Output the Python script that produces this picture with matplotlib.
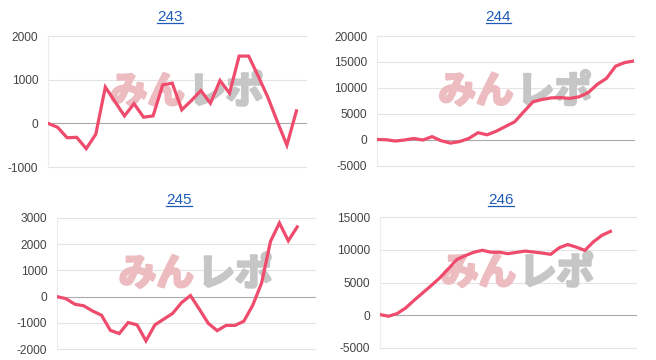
import matplotlib
matplotlib.use("Agg")
import matplotlib.pyplot as plt
import matplotlib.patheffects as pe
from matplotlib.lines import Line2D

plt.rcParams["font.family"] = ["Liberation Sans", "DejaVu Sans"]
plt.rcParams["axes.unicode_minus"] = False

LINE_COLOR = "#ef4b6c"
TITLE_COLOR = "#1f5cb8"

titles = ["243", "244", "245", "246"]

units_243 = [0, -90, -330, -320, -580, -250, 830, 500, 170, 450, 140, 170, 880, 920,
             310, 520, 750, 460, 980, 690, 1540, 1540, 1080, 600, 40, -500, 285]
units_244 = [100, 50, -200, 0, 300, 0, 650, -150, -600, -300, 300, 1400, 1000, 1700,
             2600, 3500, 5450, 7350, 7800, 8100, 8150, 8000, 8300, 9100, 10700, 11850,
             14200, 14900, 15200]
units_245 = [0, -80, -290, -350, -550, -710, -1290, -1410, -990, -1080, -1690, -1080,
             -860, -640, -230, 40, -480, -1020, -1300, -1100, -1100, -940, -330, 520,
             2110, 2810, 2130, 2660]
units_246 = [100, -150, 250, 1100, 2290, 3410, 4530, 5700, 7070, 8500, 9110, 9620, 9920,
             9620, 9620, 9400, 9600, 9800, 9650, 9500, 9300, 10300, 10800, 10400, 9900,
             11200, 12200, 12800]

series = [units_243, units_244, units_245, units_246]
y_ticks = [
    [-1000, 0, 1000, 2000],
    [-5000, 0, 5000, 10000, 15000, 20000],
    [-2000, -1000, 0, 1000, 2000, 3000],
    [-5000, 0, 5000, 10000, 15000],
]
x_slots = [27, 28, 29, 30]

# axes boxes in pixels: left, top, right, bottom
boxes = [
    (48, 36, 306, 167),
    (377, 36, 634, 166),
    (57, 218, 315, 349),
    (380, 217, 636, 348),
]

W, H = 656, 360
fig = plt.figure(figsize=(W / 100, H / 100), dpi=100)

title_texts = []
for title, values, ticks, slots, (l, t, r, b) in zip(titles, series, y_ticks, x_slots, boxes):
    ax = fig.add_axes([l / W, 1 - b / H, (r - l) / W, (b - t) / H])
    ax.set_xlim(0, slots)
    ax.set_ylim(ticks[0], ticks[-1])
    ax.set_yticks(ticks)
    ax.set_yticklabels([str(v) for v in ticks])
    ax.set_xticks([])
    for s in ["top", "right", "bottom"]:
        ax.spines[s].set_visible(False)
    ax.spines["left"].set_color("#ececec")
    ax.spines["left"].set_linewidth(0.8)
    ax.tick_params(axis="y", length=0, pad=7, labelsize=8.6, labelcolor="#444444")
    for v in ticks:
        ax.axhline(v, color="#aaaaaa" if v == 0 else "#e4e4e4", lw=0.8, zorder=0,
                   clip_on=False)

    # watermark
    for label, x, c in [("みん", 0.385, "#ecbcc0"), ("レポ", 0.69, "#c6c6c6")]:
        ax.text(x, 0.575, label, transform=ax.transAxes, ha="center", va="center",
                fontsize=27, fontweight="bold", color=c,
                family=["Noto Sans CJK JP", "DejaVu Sans"], zorder=1,
                path_effects=[pe.withStroke(linewidth=2, foreground=c)])

    ax.plot(range(len(values)), values, color=LINE_COLOR, lw=2.3, zorder=3,
            solid_joinstyle="miter")

    ty = 1 + (t - (17 if t < 100 else 199.5)) / (b - t)
    tt = ax.text(0.472, ty, title, transform=ax.transAxes, ha="center", va="center",
                 fontsize=11, color=TITLE_COLOR)
    title_texts.append(tt)

# underline the titles like links
fig.canvas.draw()
for tt in title_texts:
    bb = tt.get_window_extent()
    y = bb.y0 + 1
    fig.add_artist(Line2D([bb.x0 / W, bb.x1 / W], [y / H, y / H], color=TITLE_COLOR,
                          lw=0.9, transform=fig.transFigure))

fig.savefig("out.png", dpi=100)
